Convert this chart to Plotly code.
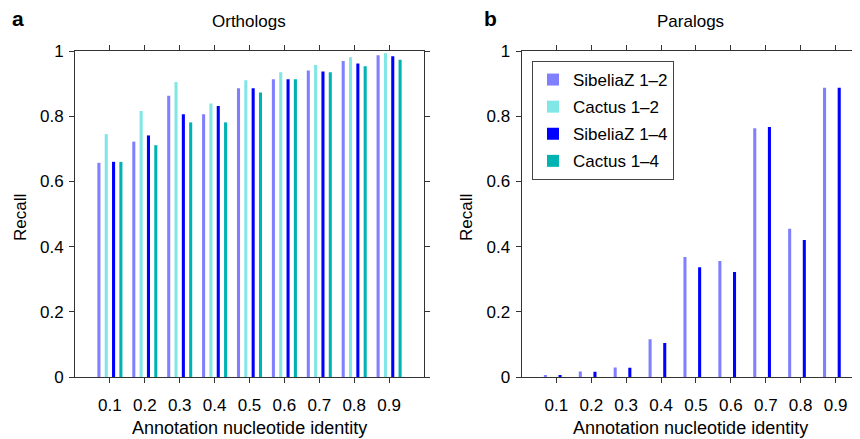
import plotly.graph_objects as go

# annotation nucleotide identity bins
identity = [0.1, 0.2, 0.3, 0.4, 0.5, 0.6, 0.7, 0.8, 0.9]
tick_text = ["0.1", "0.2", "0.3", "0.4", "0.5", "0.6", "0.7", "0.8", "0.9"]

# recall, orthologs (panel a)
orth_sz12 = [0.657, 0.722, 0.863, 0.806, 0.886, 0.913, 0.940, 0.969, 0.987]
orth_c12 = [0.745, 0.816, 0.905, 0.839, 0.910, 0.935, 0.957, 0.981, 0.993]
orth_sz14 = [0.660, 0.741, 0.806, 0.831, 0.886, 0.913, 0.937, 0.962, 0.984]
orth_c14 = [0.660, 0.711, 0.781, 0.781, 0.873, 0.913, 0.935, 0.953, 0.973]

# recall, paralogs (panel b) - no Cactus values
para_sz12 = [0.005, 0.017, 0.029, 0.116, 0.368, 0.356, 0.763, 0.455, 0.887]
para_sz14 = [0.006, 0.016, 0.028, 0.104, 0.337, 0.322, 0.767, 0.420, 0.887]

names = ["SibeliaZ 1\u20132", "Cactus 1\u20132", "SibeliaZ 1\u20134", "Cactus 1\u20134"]
colors = ["#8080FF", "#80E6E6", "#0000FF", "#00B3B3"]
offsets = [-0.0315, -0.0105, 0.0105, 0.0315]
bw = 0.0088

W, H = 860, 439
OFF = 8  # the page body margin pushes the plot by 8px
FONT = "Liberation Sans, Arial, Helvetica, sans-serif"


def px(x):
    return (x - OFF) / W


def py(y):
    return 1 - (y - OFF) / H


fig = go.Figure()

orth = [orth_sz12, orth_c12, orth_sz14, orth_c14]
for i in range(4):
    fig.add_trace(go.Bar(
        x=identity, y=orth[i], name=names[i], marker_color=colors[i],
        marker_line_width=0, width=bw, offset=offsets[i] - bw / 2,
        legendgroup=names[i], xaxis="x", yaxis="y", showlegend=True))

para = [para_sz12, None, para_sz14, None]
for i in range(4):
    if para[i] is None:
        continue
    fig.add_trace(go.Bar(
        x=identity, y=para[i], name=names[i], marker_color=colors[i],
        marker_line_width=0, width=bw, offset=offsets[i] - bw / 2,
        legendgroup=names[i], xaxis="x2", yaxis="y2", showlegend=False))

axis_style = dict(
    showline=True, linecolor="#333333", linewidth=1,
    ticks="outside", ticklen=5, tickcolor="#333333",
    tickfont=dict(size=17, color="black", family=FONT),
    showgrid=False, zeroline=False, automargin=False,
)

y_dom = [py(377), py(51)]
yticks = [0, 0.2, 0.4, 0.6, 0.8, 1]
ytext = ["0", "0.2", "0.4", "0.6", "0.8", "1"]

fig.update_layout(
    width=W, height=H, autosize=False,
    margin=dict(l=0, r=0, t=0, b=0, pad=0, autoexpand=False),
    paper_bgcolor="white", plot_bgcolor="white",
    barmode="overlay",
    font=dict(family=FONT, color="black"),
    xaxis=dict(domain=[px(75), px(424)], range=[0, 1], tickvals=identity,
               ticktext=tick_text, mirror="ticks", anchor="y",
               ticklabelstandoff=8, **axis_style),
    yaxis=dict(domain=y_dom, range=[0, 1], tickvals=yticks, ticktext=ytext,
               mirror="ticks", anchor="x", ticklabelstandoff=2, **axis_style),
    xaxis2=dict(domain=[px(521.5), 1], range=[0, 0.993], tickvals=identity,
                ticktext=tick_text, mirror="ticks", anchor="y2",
                ticklabelstandoff=8, **axis_style),
    yaxis2=dict(domain=y_dom, range=[0, 1], tickvals=yticks, ticktext=ytext,
                anchor="x2", ticklabelstandoff=2, **axis_style),
    legend=dict(x=px(532), y=py(61), xanchor="left", yanchor="top",
                bgcolor="white", bordercolor="#444444", borderwidth=1,
                font=dict(size=17, family=FONT), tracegroupgap=2,
                itemwidth=30),
)

annotations = [
    dict(text="<b>a</b>", x=px(18), y=py(19), font_size=21),
    dict(text="<b>b</b>", x=px(490), y=py(19), font_size=21),
    dict(text="Orthologs", x=px(249), y=py(22), font_size=17),
    dict(text="Paralogs", x=px(690), y=py(22), font_size=17),
    dict(text="Recall", x=px(21), y=py(218), textangle=-90, font_size=17),
    dict(text="Recall", x=px(467), y=py(218), textangle=-90, font_size=17),
    dict(text="Annotation nucleotide identity", x=px(249), y=py(428), font_size=18),
    dict(text="Annotation nucleotide identity", x=px(690), y=py(428), font_size=18),
]
for a in annotations:
    fig.add_annotation(xref="paper", yref="paper", showarrow=False,
                       xanchor="center", yanchor="middle", **a)

fig.write_html("out.html")
